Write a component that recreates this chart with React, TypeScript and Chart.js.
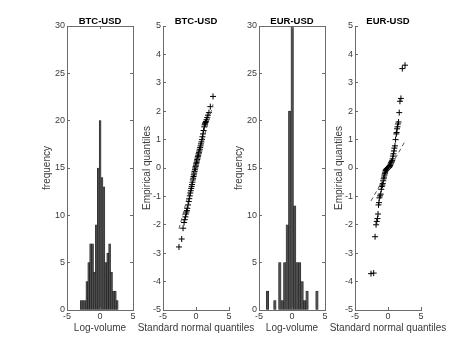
import React, { useEffect, useRef } from "react";
import { Chart, registerables } from "chart.js";

Chart.register(...registerables);

// ---------- text ----------
const TITLE_BTC = "BTC-USD";
const TITLE_EUR = "EUR-USD";
const HIST_X_LABEL = "Log-volume";
const HIST_Y_LABEL = "frequency";
const QQ_X_LABEL = "Standard normal quantiles";
const QQ_Y_LABEL = "Empirical quantiles";

// ---------- ticks ----------
const X_TICKS = [-5, 0, 5];
const HIST_Y_TICKS = [0, 5, 10, 15, 20, 25, 30];
const QQ_Y_TICKS = [-5, -4, -3, -2, -1, 0, 1, 2, 3, 4, 5];

// ---------- BTC histogram ----------
const BTC_BIN_CENTERS = [
  -2.856, -2.569, -2.281, -1.994, -1.706, -1.419, -1.131, -0.844, -0.556, -0.269,
  0.019, 0.306, 0.594, 0.881, 1.169, 1.456, 1.744, 2.031, 2.319, 2.606,
];
const BTC_COUNTS = [1, 1, 1, 3, 5, 7, 7, 4, 9, 15, 20, 14, 13, 5, 6, 7, 4, 2, 2, 1];

// ---------- EUR histogram ----------
const EUR_BIN_CENTERS = [
  -3.72, -3.345, -2.97, -2.595, -2.22, -1.845, -1.47, -1.095, -0.72, -0.345,
  0.03, 0.405, 0.78, 1.155, 1.53, 1.905, 2.28, 2.655, 3.03, 3.405, 3.78,
];
const EUR_COUNTS = [2, 0, 0, 1, 0, 5, 1, 5, 9, 21, 30, 11, 5, 5, 3, 1, 2, 0, 0, 0, 2];

// ---------- QQ plots ----------
const QQ_X = [
  -2.58, -2.17, -1.96, -1.81, -1.7, -1.6, -1.51, -1.44, -1.37, -1.31,
  -1.2, -1.1, -1.02, -0.94, -0.86, -0.79, -0.72, -0.66, -0.6, -0.54,
  -0.48, -0.43, -0.37, -0.32, -0.27, -0.22, -0.16, -0.11, -0.06, -0.01,
  0.04, 0.09, 0.14, 0.19, 0.24, 0.29, 0.34, 0.4, 0.45, 0.51,
  0.57, 0.63, 0.69, 0.75, 0.82, 0.9, 0.97, 1.06, 1.15, 1.25,
  1.31, 1.37, 1.44, 1.51, 1.6, 1.7, 1.81, 1.96, 2.17, 2.58,
];
const BTC_QQ_Y = [
  -2.78, -2.5, -2.12, -1.92, -1.82, -1.72, -1.62, -1.55, -1.5, -1.42,
  -1.3, -1.18, -1.08, -0.98, -0.88, -0.8, -0.72, -0.65, -0.58, -0.5,
  -0.42, -0.36, -0.3, -0.24, -0.18, -0.12, -0.06, 0.0, 0.05, 0.1,
  0.15, 0.2, 0.25, 0.3, 0.35, 0.4, 0.45, 0.5, 0.55, 0.6,
  0.66, 0.72, 0.78, 0.85, 0.92, 1.0, 1.1, 1.2, 1.32, 1.45,
  1.52, 1.56, 1.6, 1.64, 1.7, 1.78, 1.86, 1.95, 2.16, 2.52,
];
const EUR_QQ_Y = [
  -3.72, -3.7, -2.42, -2.0, -1.88, -1.78, -1.62, -1.3, -1.22, -1.05,
  -0.98, -0.92, -0.75, -0.65, -0.6, -0.55, -0.45, -0.38, -0.32, -0.25,
  -0.2, -0.15, -0.1, -0.08, -0.06, -0.04, -0.03, -0.02, -0.01, 0.0,
  0.01, 0.02, 0.03, 0.04, 0.06, 0.08, 0.1, 0.14, 0.18, 0.2,
  0.22, 0.26, 0.32, 0.42, 0.5, 0.6, 0.7, 0.78, 1.0, 1.2,
  1.25, 1.38, 1.45, 1.55, 1.62, 1.95, 2.35, 2.45, 3.5, 3.62,
];
const BTC_LINE_X = [-2.58, 2.58];
const BTC_LINE_Y = [-2.14, 2.24];
const EUR_LINE_X = [-2.58, 2.58];
const EUR_LINE_Y = [-1.16, 0.94];

// ---------- style ----------
const FONT = "'Liberation Sans', Arial, Helvetica, sans-serif";
const AXIS_COLOR = "#6b6b6b";
const TEXT_COLOR = "#3a3a3a";
const CANVAS_W = 186;
const CANVAS_H = 350;
const SIDE = 60;

const matlabAxes = {
  id: "matlabAxes",
  afterDraw(chart: any, _args: any, opts: any) {
    const { ctx, chartArea } = chart;
    const { left, right, top, bottom } = chartArea;
    const xs = chart.scales.x;
    const ys = chart.scales.y;
    const len = 3;
    const a = (v: number) => Math.round(v - 0.5) + 0.5;
    ctx.save();
    ctx.strokeStyle = AXIS_COLOR;
    ctx.lineWidth = 1;
    ctx.beginPath();
    xs.ticks.forEach((t: any) => {
      const px = a(xs.getPixelForValue(t.value));
      ctx.moveTo(px, bottom);
      ctx.lineTo(px, bottom - len);
      if (opts.box) {
        ctx.moveTo(px, top);
        ctx.lineTo(px, top + len);
      }
    });
    ys.ticks.forEach((t: any) => {
      const py = a(ys.getPixelForValue(t.value));
      ctx.moveTo(left, py);
      ctx.lineTo(left + len, py);
      if (opts.box) {
        ctx.moveTo(right, py);
        ctx.lineTo(right - len, py);
      }
    });
    if (opts.box) {
      ctx.moveTo(left, a(top));
      ctx.lineTo(right, a(top));
      ctx.moveTo(a(right), top);
      ctx.lineTo(a(right), bottom);
    }
    ctx.stroke();
    ctx.restore();
  },
};

function makeScales(yTicks: number[], yTitle: string, yTitlePad: number) {
  return {
    x: {
      type: "linear",
      min: -5,
      max: 5,
      offset: false,
      afterBuildTicks: (s: any) => {
        s.ticks = X_TICKS.map((value) => ({ value }));
      },
      afterFit: (s: any) => {
        s.height = 12.5;
      },
      grid: { display: true, drawOnChartArea: false, drawTicks: false, offset: false },
      border: { display: true, color: AXIS_COLOR, width: 1 },
      ticks: {
        font: { family: FONT, size: 9 },
        color: TEXT_COLOR,
        padding: 1.5,
        maxRotation: 0,
        autoSkip: false,
      },
      title: { display: false },
    },
    y: {
      type: "linear",
      position: "left",
      min: yTicks[0],
      max: yTicks[yTicks.length - 1],
      afterBuildTicks: (s: any) => {
        s.ticks = yTicks.map((value) => ({ value }));
      },
      afterFit: (s: any) => {
        s.width = SIDE;
      },
      grid: { display: true, drawOnChartArea: false, drawTicks: false },
      border: { display: true, color: AXIS_COLOR, width: 1 },
      ticks: {
        font: { family: FONT, size: 9 },
        color: TEXT_COLOR,
        padding: 2,
        autoSkip: false,
      },
      title: {
        display: true,
        text: yTitle,
        font: { family: FONT, size: 10 },
        color: TEXT_COLOR,
        padding: { top: yTitlePad, bottom: 0 },
      },
    },
    spacer: {
      type: "linear",
      position: "right",
      display: true,
      afterFit: (s: any) => {
        s.width = SIDE;
      },
      ticks: { display: false },
      grid: { display: false, drawTicks: false },
      border: { display: false },
    },
  };
}

function commonOptions(title: string, xTitle: string, box: boolean, scales: any) {
  return {
    responsive: false,
    maintainAspectRatio: false,
    animation: false,
    devicePixelRatio: 1,
    layout: { padding: 0 },
    scales,
    plugins: {
      legend: { display: false },
      tooltip: { enabled: false },
      title: {
        display: true,
        text: title,
        color: "#000",
        font: { family: FONT, size: 9.5, weight: "bold", lineHeight: 1 },
        padding: { top: 16.5, bottom: 0 },
      },
      subtitle: {
        display: true,
        position: "bottom",
        text: xTitle,
        color: TEXT_COLOR,
        font: { family: FONT, size: 10, lineHeight: 1.2 },
        padding: { top: 0, bottom: 15.5 },
      },
      matlabAxes: { box },
    },
  };
}

function histConfig(title: string, centers: number[], counts: number[]) {
  return {
    type: "bar",
    data: {
      datasets: [
        {
          data: centers.map((x, i) => ({ x, y: counts[i] })),
          backgroundColor: "#4d4d4d",
          borderColor: "#151515",
          borderWidth: 0.5,
          borderSkipped: false,
          barPercentage: 1,
          categoryPercentage: 1,
        },
      ],
    },
    options: commonOptions(title, HIST_X_LABEL, true, makeScales(HIST_Y_TICKS, HIST_Y_LABEL, 34)),
    plugins: [matlabAxes],
  };
}

function qqConfig(title: string, xs: number[], ys: number[], lx: number[], ly: number[]) {
  return {
    type: "scatter",
    data: {
      datasets: [
        {
          type: "line",
          data: lx.map((x, i) => ({ x, y: ly[i] })),
          borderColor: "#555",
          borderWidth: 1,
          borderDash: [4, 3],
          pointRadius: 0,
          fill: false,
        },
        {
          data: xs.map((x, i) => ({ x, y: ys[i] })),
          pointStyle: "cross",
          pointRadius: 3,
          borderColor: "#000",
          backgroundColor: "#000",
          borderWidth: 1,
        },
      ],
    },
    options: commonOptions(title, QQ_X_LABEL, false, makeScales(QQ_Y_TICKS, QQ_Y_LABEL, 38.7)),
    plugins: [matlabAxes],
  };
}

function Panel({ left, build }: { left: number; build: () => any }) {
  const ref = useRef<HTMLCanvasElement | null>(null);
  useEffect(() => {
    const chart = new Chart(ref.current as HTMLCanvasElement, build());
    return () => chart.destroy();
  }, []);
  return (
    <canvas
      ref={ref}
      width={CANVAS_W}
      height={CANVAS_H}
      style={{ position: "absolute", left, top: 0, width: CANVAS_W, height: CANVAS_H }}
    />
  );
}

export default function App() {
  return (
    <div
      style={{
        position: "fixed",
        left: 0,
        top: 0,
        width: 467,
        height: 350,
        overflow: "hidden",
        background: "#fff",
      }}
    >
      <Panel left={67 - SIDE} build={() => histConfig(TITLE_BTC, BTC_BIN_CENTERS, BTC_COUNTS)} />
      <Panel left={163 - SIDE} build={() => qqConfig(TITLE_BTC, QQ_X, BTC_QQ_Y, BTC_LINE_X, BTC_LINE_Y)} />
      <Panel left={259 - SIDE} build={() => histConfig(TITLE_EUR, EUR_BIN_CENTERS, EUR_COUNTS)} />
      <Panel left={355 - SIDE} build={() => qqConfig(TITLE_EUR, QQ_X, EUR_QQ_Y, EUR_LINE_X, EUR_LINE_Y)} />
    </div>
  );
}
